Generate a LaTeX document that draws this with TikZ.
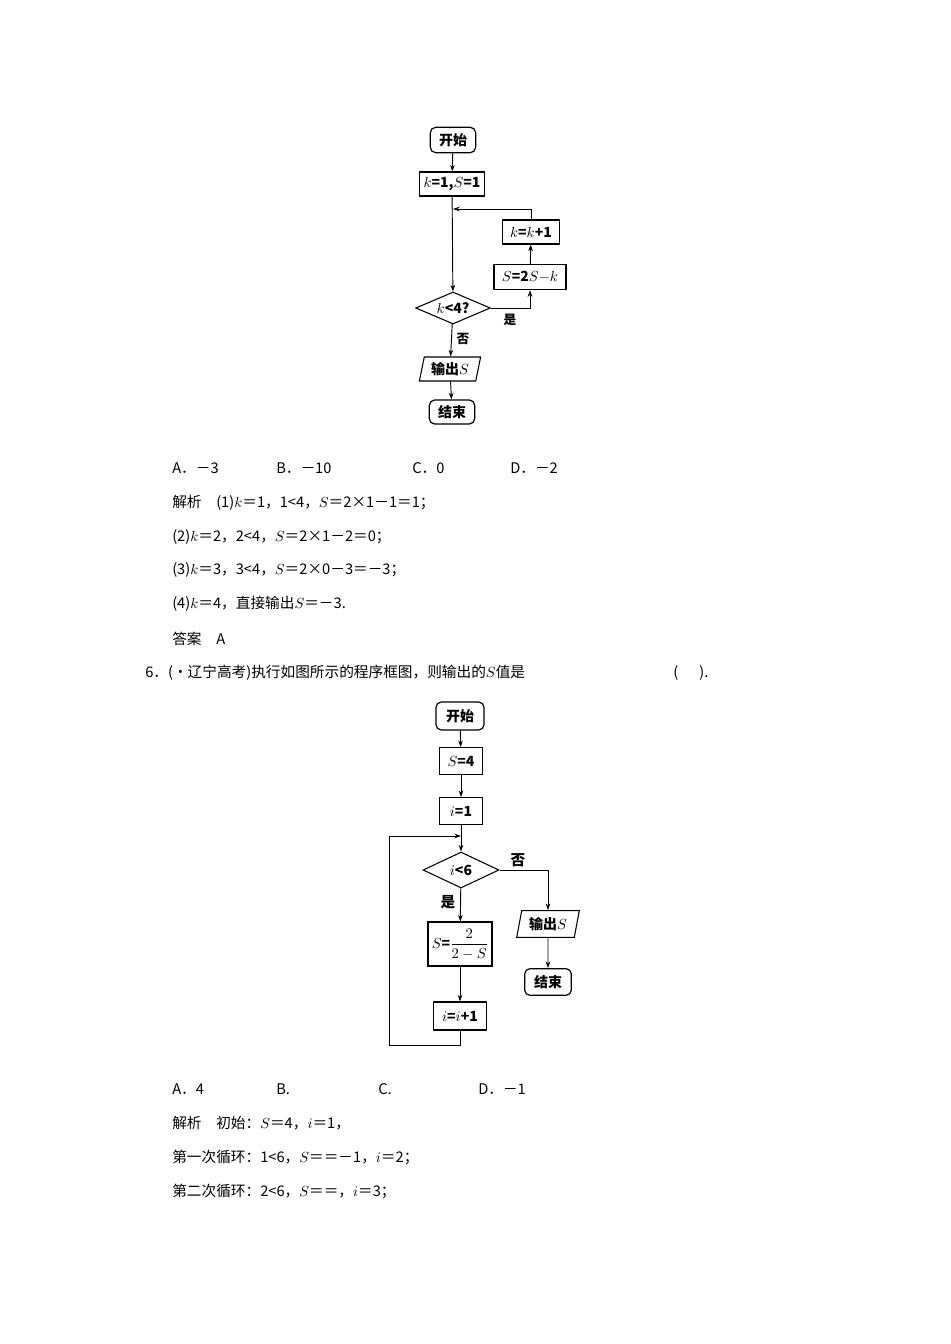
\documentclass[tikz,border=0pt]{standalone}
\usepackage{amsmath}
\usepackage{fontspec}
\setmainfont{Noto Sans CJK SC}
\usetikzlibrary{shapes.geometric,arrows.meta}
\tikzset{
 term/.style={draw,rounded corners=4pt,line width=0.9pt,inner sep=0pt,font=\fontsize{10.5}{12}\selectfont\bfseries},
 proc/.style={draw,line width=0.8pt,inner sep=0pt,font=\fontsize{10.5}{12}\selectfont\bfseries},
 dec/.style={draw,diamond,aspect=2.2,line width=0.8pt,inner sep=0pt,font=\fontsize{10.5}{12}\selectfont\bfseries},
 io/.style={draw,trapezium,trapezium left angle=75,trapezium right angle=105,trapezium stretches=true,line width=0.8pt,inner sep=0pt,font=\fontsize{10.5}{12}\selectfont\bfseries},
 ln/.style={line width=0.7pt},
 ar/.style={line width=0.7pt,-{Stealth[length=5pt,width=3.5pt]}},
 txt/.style={anchor=west,inner sep=0pt,font=\fontsize{11}{13}\selectfont},
 lab/.style={inner sep=0pt,font=\fontsize{9.5}{11}\selectfont\bfseries}
}
\begin{document}
\begin{tikzpicture}[x=0.75pt,y=-0.75pt]
\useasboundingbox[fill=white] (0,0) rectangle (950,1344);
% flowchart 1
\node[term,minimum width=34pt,minimum height=19pt] (a1) at (453,140) {开始};
\node[proc,minimum width=49pt,minimum height=18pt] (a2) at (452,184) {$k$=1,$S$=1};
\node[proc,minimum width=43pt,minimum height=18pt] (a3) at (531,232) {$k$=$k$+1};
\node[proc,minimum width=54pt,minimum height=19pt] (a4) at (530,277) {$S$=2$S$$-$$k$};
\node[dec,minimum width=56pt,minimum height=24pt] (a5) at (453,308) {$k$<4?};
\node[io,minimum width=46pt,minimum height=18pt] (a6) at (450,369) {输出$S$};
\node[term,minimum width=34pt,minimum height=18pt] (a7) at (452,412) {结束};
\coordinate (j1) at (453,209);
\draw[ar] (a1) -- (a2);
\draw[ar] (a2) -- (a5);
\draw[ar] (a5.east) -| (a4.south);
\draw[ar] (a4) -- (a3);
\draw[ar] (a3.north) |- (j1);
\draw[ar] (a5) -- (a6);
\draw[ar] (a6) -- (a7);
\node[lab] (y1) at (510,320) {是};
\node[lab] (n1) at (463,339) {否};
% text block 1
\node[txt] (t1) at (172,468) {A．－3};
\node[txt] (t2) at (276,468) {B．－10};
\node[txt] (t3) at (412,468) {C．0};
\node[txt] (t4) at (510,468) {D．－2};
\node[txt] (t5) at (172,503) {解析\quad (1)$k$＝1，1<4，$S$＝2×1－1＝1；};
\node[txt] (t6) at (172,537) {(2)$k$＝2，2<4，$S$＝2×1－2＝0；};
\node[txt] (t7) at (172,570) {(3)$k$＝3，3<4，$S$＝2×0－3＝－3；};
\node[txt] (t8) at (172,604) {(4)$k$＝4，直接输出$S$＝－3.};
\node[txt] (t9) at (172,639) {答案\quad A};
\node[txt] (t10) at (145,673) {6．(・辽宁高考)执行如图所示的程序框图，则输出的$S$值是};
\node[txt] (t11) at (673,673) {(\quad\ \ ).};
% flowchart 2
\node[term,minimum width=36pt,minimum height=21pt] (b1) at (460,716) {开始};
\node[proc,minimum width=32pt,minimum height=20pt] (b2) at (461,761) {$S$=4};
\node[proc,minimum width=32pt,minimum height=20pt] (b3) at (461,811) {$i$=1};
\node[dec,minimum width=57pt,minimum height=27pt] (b4) at (461,870) {$i$<6};
\node[proc,minimum width=48pt,minimum height=33pt] (b5) at (460,944) {$S$=$\dfrac{2}{2-S}$};
\node[proc,minimum width=40pt,minimum height=21pt] (b6) at (460,1016) {$i$=$i$+1};
\node[io,minimum width=47pt,minimum height=20pt] (b7) at (548,924) {输出$S$};
\node[term,minimum width=35pt,minimum height=20pt] (b8) at (548,982) {结束};
\coordinate (j2) at (461,836);
\coordinate (c1) at (460,1045);
\coordinate (c2) at (389,1045);
\coordinate (c3) at (389,836);
\draw[ar] (b1) -- (b2);
\draw[ar] (b2) -- (b3);
\draw[ar] (b3) -- (b4);
\draw[ar] (b4) -- (b5);
\draw[ar] (b5) -- (b6);
\draw[ar] (b4.east) -| (b7.north);
\draw[ar] (b7) -- (b8);
\draw[ar] (b6.south) -- (c1) -- (c2) -- (c3) -- (j2);
\node[lab,font=\fontsize{11}{13}\selectfont\bfseries] (n2) at (518,860) {否};
\node[lab,font=\fontsize{11}{13}\selectfont\bfseries] (y2) at (448,902) {是};
% text block 2
\node[txt] (u1) at (172,1089) {A．4};
\node[txt] (u2) at (276,1089) {B.};
\node[txt] (u3) at (378,1089) {C.};
\node[txt] (u4) at (478,1089) {D．－1};
\node[txt] (u5) at (172,1123) {解析\quad 初始：$S$＝4，$i$＝1，};
\node[txt] (u6) at (172,1157) {第一次循环：1<6，$S$＝＝－1，$i$＝2；};
\node[txt] (u7) at (172,1191) {第二次循环：2<6，$S$＝＝，$i$＝3；};
\end{tikzpicture}
\end{document}
